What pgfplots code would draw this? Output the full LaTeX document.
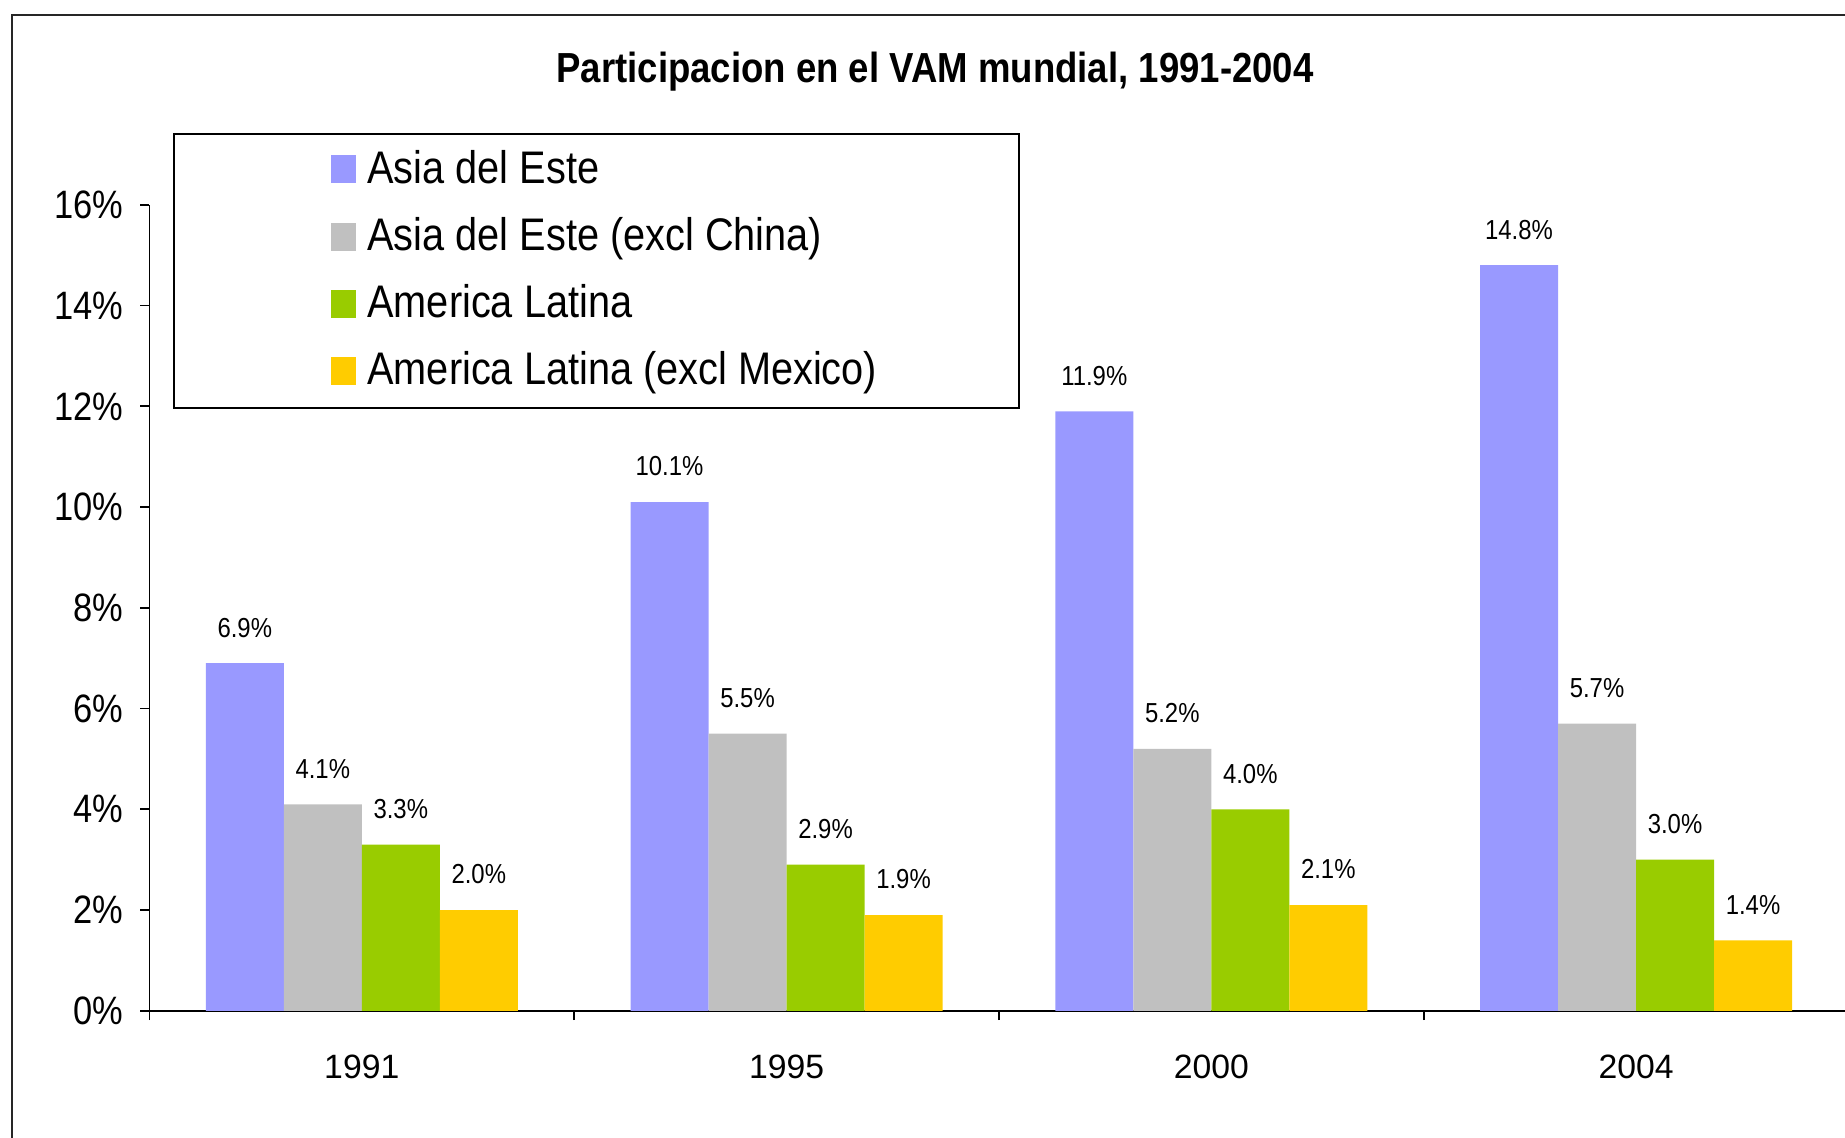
\documentclass[border=0pt]{standalone}
\usepackage{pgfplots}
\pgfplotsset{compat=1.18}
\usepackage{fontspec}
\setmainfont{Liberation Sans}
\usepackage{graphicx}
\definecolor{cBlue}{HTML}{9999FF}
\definecolor{cGray}{HTML}{C0C0C0}
\definecolor{cGreen}{HTML}{99CC00}
\definecolor{cYellow}{HTML}{FFCC00}
\newcommand{\vs}[1]{\scalebox{1}[1.15]{#1}}
\begin{document}
\begin{tikzpicture}
\useasboundingbox (0,0) rectangle (18.45,11.37);
\draw[line width=0.6pt, black!85] (18.6,11.22) -- (0.12,11.22) -- (0.12,-0.2);
\node[font=\fontsize{10.4}{12}\selectfont\bfseries] at (9.35,10.65) {\vs{Participacion en el VAM mundial, 1991-2004}};
\begin{axis}[
  at={(1.494cm,1.262cm)}, anchor=south west,
  scale only axis, width=16.99cm, height=8.06cm,
  xmin=-0.5, xmax=3.5, ymin=0, ymax=16,
  enlargelimits=false,
  axis x line*=bottom, axis y line*=left,
  axis line style={-, black, line width=0.5pt},
  tick align=outside,
  major tick length=0.094cm,
  tick style={black, line width=0.5pt},
  /pgf/number format/assume math mode=true,
  ytick={0,2,...,16},
  yticklabel={\vs{\pgfmathprintnumber{\tick}\%}},
  yticklabel style={font=\fontsize{9.8}{11}\selectfont, xshift=-0.04cm},
  xtick={-0.5,0.5,1.5,2.5,3.5},
  xticklabels={,,},
  extra x ticks={0,1,2,3},
  extra x tick labels={1991,1995,2000,2004},
  extra x tick style={major tick length=0pt, tick label style={font=\fontsize{9.6}{11}\selectfont, yshift=-0.315cm}},
  ybar=0pt, bar width=0.78cm,
  nodes near coords={\vs{\pgfmathprintnumber[fixed,fixed zerofill,precision=1]{\pgfplotspointmeta}\%}},
  every node near coord/.append style={font=\fontsize{6.8}{8}\selectfont, yshift=0.135cm, black},
  legend cell align=left,
  legend style={at={(axis description cs:0.0139,1.0888)}, anchor=north west,
    draw=black, line width=0.5pt, inner xsep=1.42cm, inner ysep=0.064cm,
    column sep=0.115cm, row sep=0.07cm,
    font=\fontsize{11.3}{13}\selectfont,
    nodes={inner xsep=0pt, inner ysep=0.1cm, text height=0.33cm, text depth=0.07cm}},
  legend image code/.code={\path (0,0); \fill[#1, draw=none] (0.15cm,-0.13cm) rectangle (0.40cm,0.15cm);},
]
\addplot[fill=cBlue, draw=none] coordinates {(0,6.9) (1,10.1) (2,11.9) (3,14.8)};
\addplot[fill=cGray, draw=none] coordinates {(0,4.1) (1,5.5) (2,5.2) (3,5.7)};
\addplot[fill=cGreen, draw=none] coordinates {(0,3.3) (1,2.9) (2,4.0) (3,3.0)};
\addplot[fill=cYellow, draw=none] coordinates {(0,2.0) (1,1.9) (2,2.1) (3,1.4)};
\legend{\vs{Asia del Este},\vs{Asia del Este (excl China)},\vs{America Latina},\vs{America Latina (excl Mexico)}}
\end{axis}
\end{tikzpicture}
\end{document}
